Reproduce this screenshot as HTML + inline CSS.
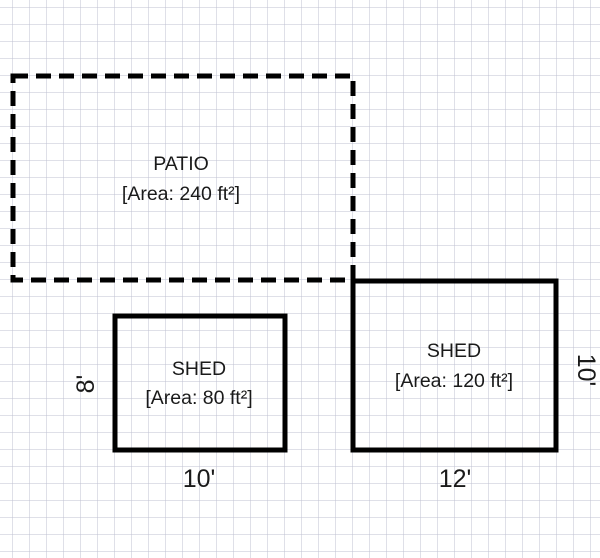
<!DOCTYPE html>
<html><head><meta charset="utf-8"><style>
html,body{margin:0;padding:0;background:#fff}
svg{display:block}
text{font-family:"Liberation Sans",Arial,sans-serif;fill:#1a1a1a}
</style></head><body>
<svg width="600" height="558" viewBox="0 0 600 558" xmlns="http://www.w3.org/2000/svg">
<defs>
<pattern id="g" x="12.5" y="7.5" width="17" height="17" patternUnits="userSpaceOnUse">
<path d="M0 0H17M0 0V17" stroke="#bfc0d2" stroke-width="1" fill="none"/>
</pattern>
</defs>
<rect width="600" height="558" fill="#fff"/>
<rect width="600" height="558" fill="url(#g)"/>
<rect x="13" y="76" width="340" height="204" fill="none" stroke="#000" stroke-width="5" stroke-dasharray="15 8"/>
<rect x="115" y="316" width="170" height="134" fill="none" stroke="#000" stroke-width="5"/>
<rect x="353" y="281" width="203" height="169" fill="none" stroke="#000" stroke-width="5"/>
<text x="181" y="170" font-size="19.5" text-anchor="middle">PATIO</text>
<text x="181" y="200" font-size="19.5" text-anchor="middle">[Area: 240 ft²]</text>
<text x="199" y="375" font-size="19.5" text-anchor="middle">SHED</text>
<text x="199" y="404" font-size="19.5" text-anchor="middle">[Area: 80 ft²]</text>
<text x="454" y="357" font-size="19.5" text-anchor="middle">SHED</text>
<text x="454" y="387" font-size="19.5" text-anchor="middle">[Area: 120 ft²]</text>
<text x="199" y="487" font-size="25" text-anchor="middle">10'</text>
<text x="455" y="487" font-size="25" text-anchor="middle">12'</text>
<text transform="translate(94,384) rotate(-90)" font-size="25" text-anchor="middle">8'</text>
<text transform="translate(578,370) rotate(90)" font-size="25" text-anchor="middle">10'</text>
</svg>
</body></html>
